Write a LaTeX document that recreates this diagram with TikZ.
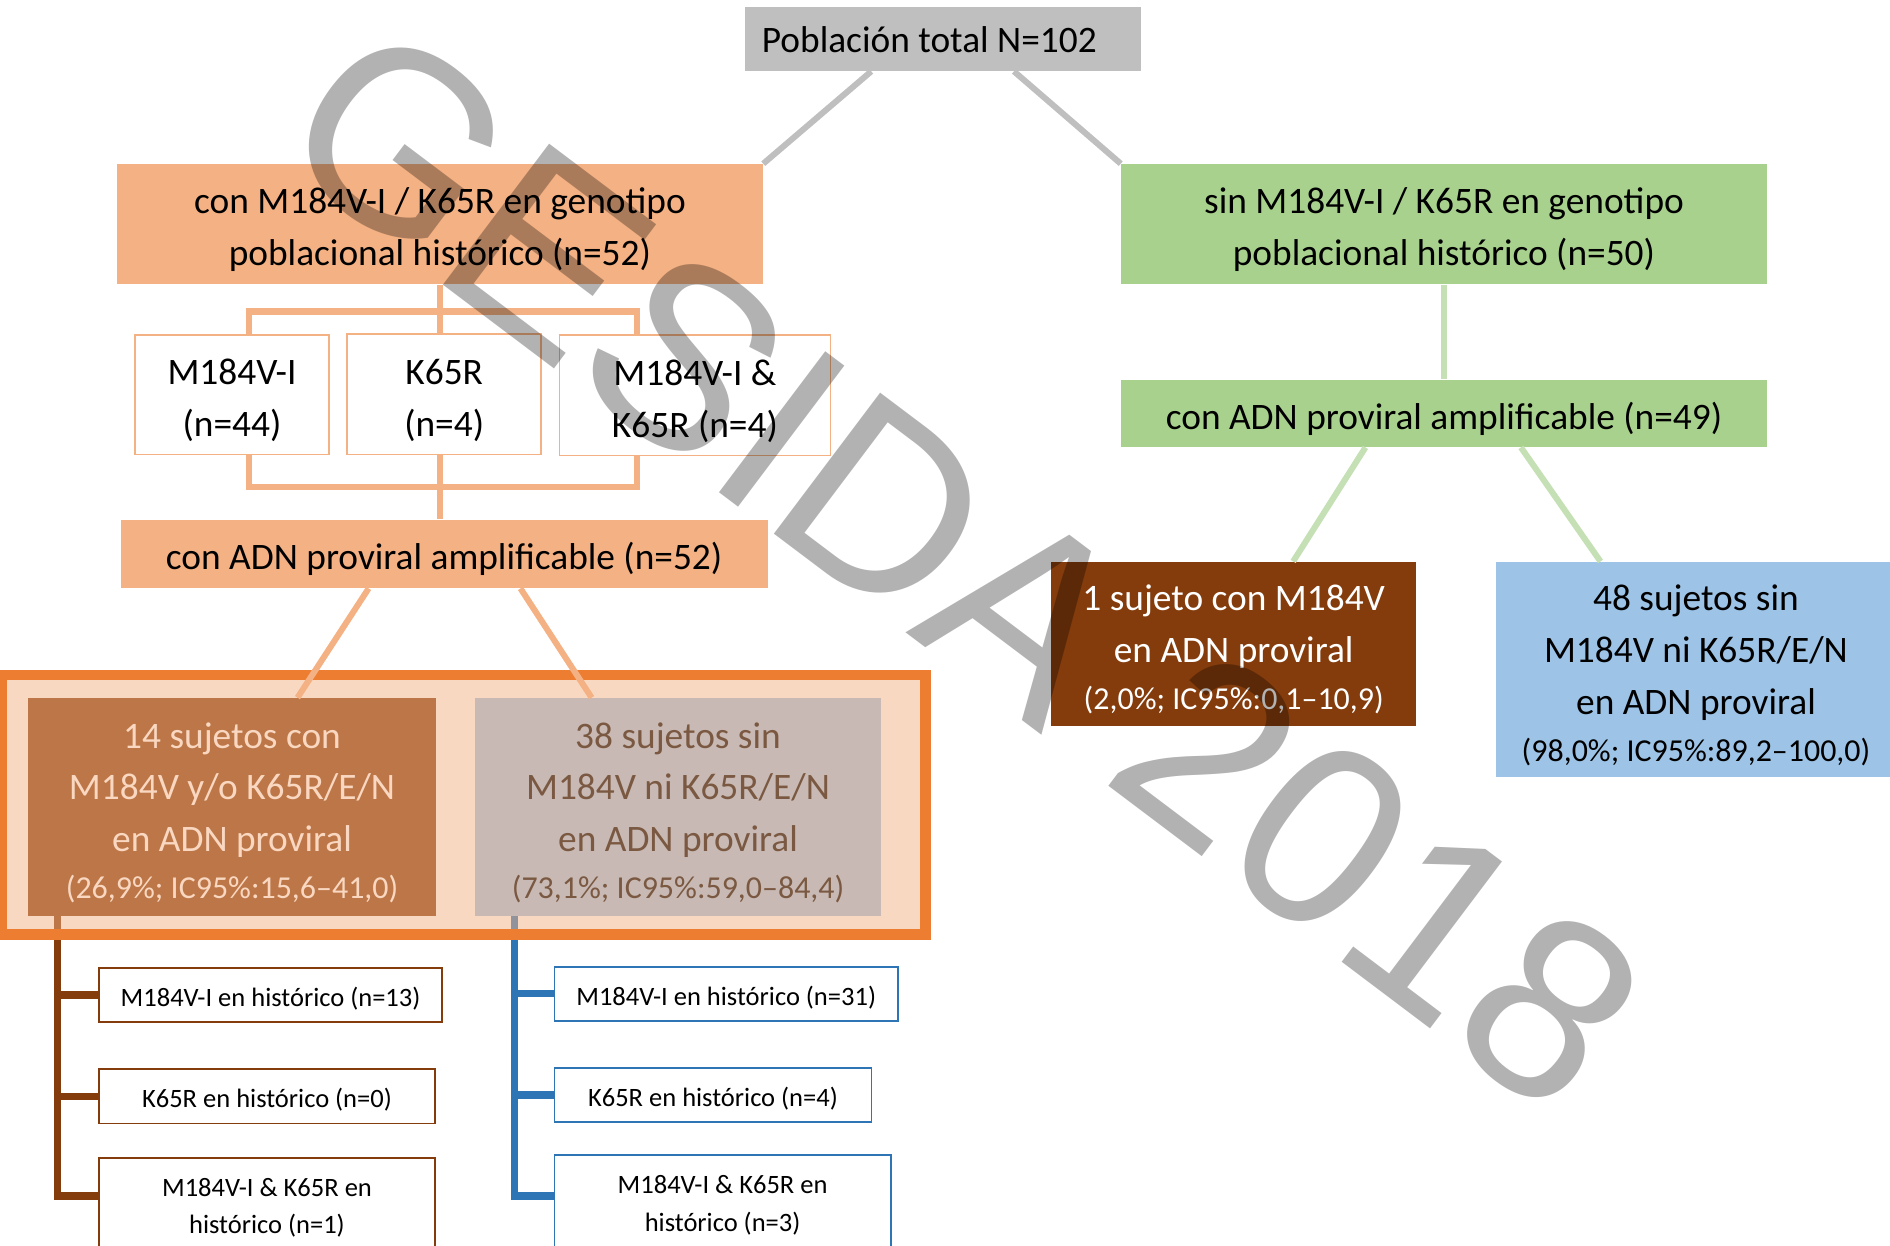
\documentclass[tikz,border=0pt]{standalone}
\usepackage{fontspec}
\setmainfont{Carlito}
\newfontfamily\marcafont{Liberation Sans}
\usetikzlibrary{calc}
\definecolor{gsGrey}{HTML}{BFBFBF}
\definecolor{gsPeach}{HTML}{F4B183}
\definecolor{gsGreen}{HTML}{A9D18E}
\definecolor{gsLtGreen}{HTML}{C5E0B4}
\definecolor{gsBrown}{HTML}{843C0C}
\definecolor{gsSky}{HTML}{9DC3E6}
\definecolor{gsBlue}{HTML}{2E75B6}
\definecolor{gsOrange}{HTML}{ED7D31}
\newcommand{\sube}{\rule{0pt}{1em}}
\newcommand{\ic}[1]{{\fontsize{26.5}{39}\selectfont #1}}
\tikzset{
  caja/.style      = {rectangle, inner sep=0pt, align=center,
                      font=\fontsize{31}{43}\selectfont},
  mut/.style       = {caja, fill=white, draw=gsPeach, line width=1.3pt},
  hist/.style      = {caja, fill=white, line width=1.5pt,
                      font=\fontsize{22}{31}\selectfont},
  lnGrey/.style    = {gsGrey, line width=5pt},
  lnPeach/.style   = {gsPeach, line width=5pt},
  lnGreen/.style   = {gsLtGreen, line width=5pt},
  brk/.style       = {gsPeach, line width=5.5pt},
  troncoM/.style   = {gsBrown, line width=6pt},
  troncoA/.style   = {gsBlue, line width=6pt},
  marco/.style     = {draw=gsOrange, line width=9pt, fill=gsPeach, fill opacity=0.5},
  marca/.style     = {inner sep=0pt, text=black, text opacity=0.3, rotate=-37,
                      font=\marcafont\fontsize{213}{213}\selectfont},
}

\begin{document}
\begin{tikzpicture}[x=1pt,y=-1pt]
  \useasboundingbox (0,0) rectangle (1568,1033);
  % cabecera
  \node[caja, fill=gsGrey, minimum width=329pt, minimum height=53pt] (total) at (782.5,32.5)
        {Población total N=102\hspace*{23pt}};
  \node[caja, fill=gsPeach, minimum width=536pt, minimum height=100pt] (conHist) at (365,186)
        {\sube con M184V-I / K65R en genotipo\\poblacional histórico (n=52)};
  \node[caja, fill=gsGreen, minimum width=536pt, minimum height=100pt] (sinHist) at (1198,186)
        {\sube sin M184V-I / K65R en genotipo\\poblacional histórico (n=50)};
  % mutaciones
  \node[mut, minimum width=161pt, minimum height=99pt] (mutM) at (192.5,327.5) {\sube M184V-I\\(n=44)};
  \node[mut, minimum width=161pt, minimum height=100pt] (mutK) at (368.5,327) {\sube K65R\\(n=4)};
  \node[mut, minimum width=225pt, minimum height=100pt] (mutMK) at (576.5,328) {\sube M184V-I \&\\K65R (n=4)};
  \node[caja, fill=gsPeach, minimum width=537pt, minimum height=57pt] (adnCon) at (368.5,459.5)
        {\sube con ADN proviral amplificable (n=52)};
  \node[caja, fill=gsGreen, minimum width=536pt, minimum height=56pt] (adnSin) at (1198,343)
        {\sube con ADN proviral amplificable (n=49)};
  % resultados
  \node[caja, fill=gsBrown, text=white, minimum width=303pt, minimum height=136pt] (sujUno) at (1023.5,534)
        {\sube 1 sujeto con M184V\\en ADN proviral\\[-4pt]\ic{(2,0\%; IC95\%:0,1–10,9)}};
  \node[caja, fill=gsSky, minimum width=332pt, minimum height=179pt] (sujNinguno) at (1407,555.5)
        {\sube 48 sujetos sin\\M184V ni K65R/E/N\\en ADN proviral\\[-4pt]\ic{(98,0\%; IC95\%:89,2–100,0)}};
  \node[caja, fill=gsBrown, text=white, minimum width=339pt, minimum height=181pt] (sujCon) at (192.5,669.5)
        {\sube 14 sujetos con\\M184V y/o K65R/E/N\\en ADN proviral\\[-4pt]\ic{(26,9\%; IC95\%:15,6–41,0)}};
  \node[caja, fill=gsSky, minimum width=337pt, minimum height=181pt] (sujSin) at (562.5,669.5)
        {\sube 38 sujetos sin\\M184V ni K65R/E/N\\en ADN proviral\\[-4pt]\ic{(73,1\%; IC95\%:59,0–84,4)}};
  % historico
  \node[hist, draw=gsBrown, minimum width=285pt, minimum height=45pt] (hCon1) at (224.5,825.5)
        {\sube M184V-I en histórico (n=13)};
  \node[hist, draw=gsBrown, minimum width=279pt, minimum height=45pt] (hCon2) at (221.5,909.5)
        {\sube K65R en histórico (n=0)};
  \node[hist, draw=gsBrown, minimum width=279pt, minimum height=75pt] (hCon3) at (221.5,998.5)
        {\sube M184V-I \& K65R en\\histórico (n=1)};
  \node[hist, draw=gsBlue, minimum width=285pt, minimum height=45pt] (hSin1) at (602.5,824.5)
        {\sube M184V-I en histórico (n=31)};
  \node[hist, draw=gsBlue, minimum width=263pt, minimum height=45pt] (hSin2) at (591.5,908.5)
        {\sube K65R en histórico (n=4)};
  \node[hist, draw=gsBlue, minimum width=279pt, minimum height=77pt] (hSin3) at (599.5,996.5)
        {\sube M184V-I \& K65R en\\histórico (n=3)};

  % conectores
  \draw[lnGrey] ([xshift=105pt]total.south west) -- (conHist.north east);
  \draw[lnGrey] ([xshift=-106pt]total.south east) -- (sinHist.north west);
  \draw[lnGreen] (sinHist.south) -- (adnSin.north);
  \draw[lnGreen] ([xshift=203pt]adnSin.south west) -- ([xshift=201pt]sujUno.north west);
  \draw[lnGreen] ([xshift=332pt]adnSin.south west) -- ([xshift=87pt]sujNinguno.north west);
  \draw[brk] (conHist.south) -- (conHist.south |- mutK.north);
  \draw[brk] ([xshift=14pt]mutM.north) -- ++(0,-19) -| ([xshift=-48pt]mutMK.north);
  \draw[brk] ([xshift=14pt]mutM.south) -- ++(0,26.5) -| ([xshift=-48pt]mutMK.south);
  \draw[brk] (mutK.south -| conHist.south) -- (adnCon.north -| conHist.south);
  \coordinate (tCon) at ([xshift=25pt]sujCon.south west);
  \coordinate (tSin) at ([xshift=33pt]sujSin.south west);
  \draw[troncoM] (tCon) |- ([yshift=-32pt]hCon3.north west);
  \draw[troncoM] (hCon1.west) -- (hCon1.west -| tCon);
  \draw[troncoM] (hCon2.west) -- (hCon2.west -| tCon);
  \draw[troncoA] (tSin) |- ([yshift=-35pt]hSin3.north west);
  \draw[troncoA] (hSin1.west) -- (hSin1.west -| tSin);
  \draw[troncoA] (hSin2.west) -- (hSin2.west -| tSin);

  % recuadro resaltado
  \draw[marco] (1.5,560) rectangle (768,775);
  \draw[lnPeach] ([xshift=206pt]adnCon.south west) -- ([xshift=224pt]sujCon.north west);
  \draw[lnPeach] ([xshift=332pt]adnCon.south west) -- ([xshift=97pt]sujSin.north west);

  \node[marca] (wm) at (800,470) {GESIDA 2018};
\end{tikzpicture}
\end{document}
